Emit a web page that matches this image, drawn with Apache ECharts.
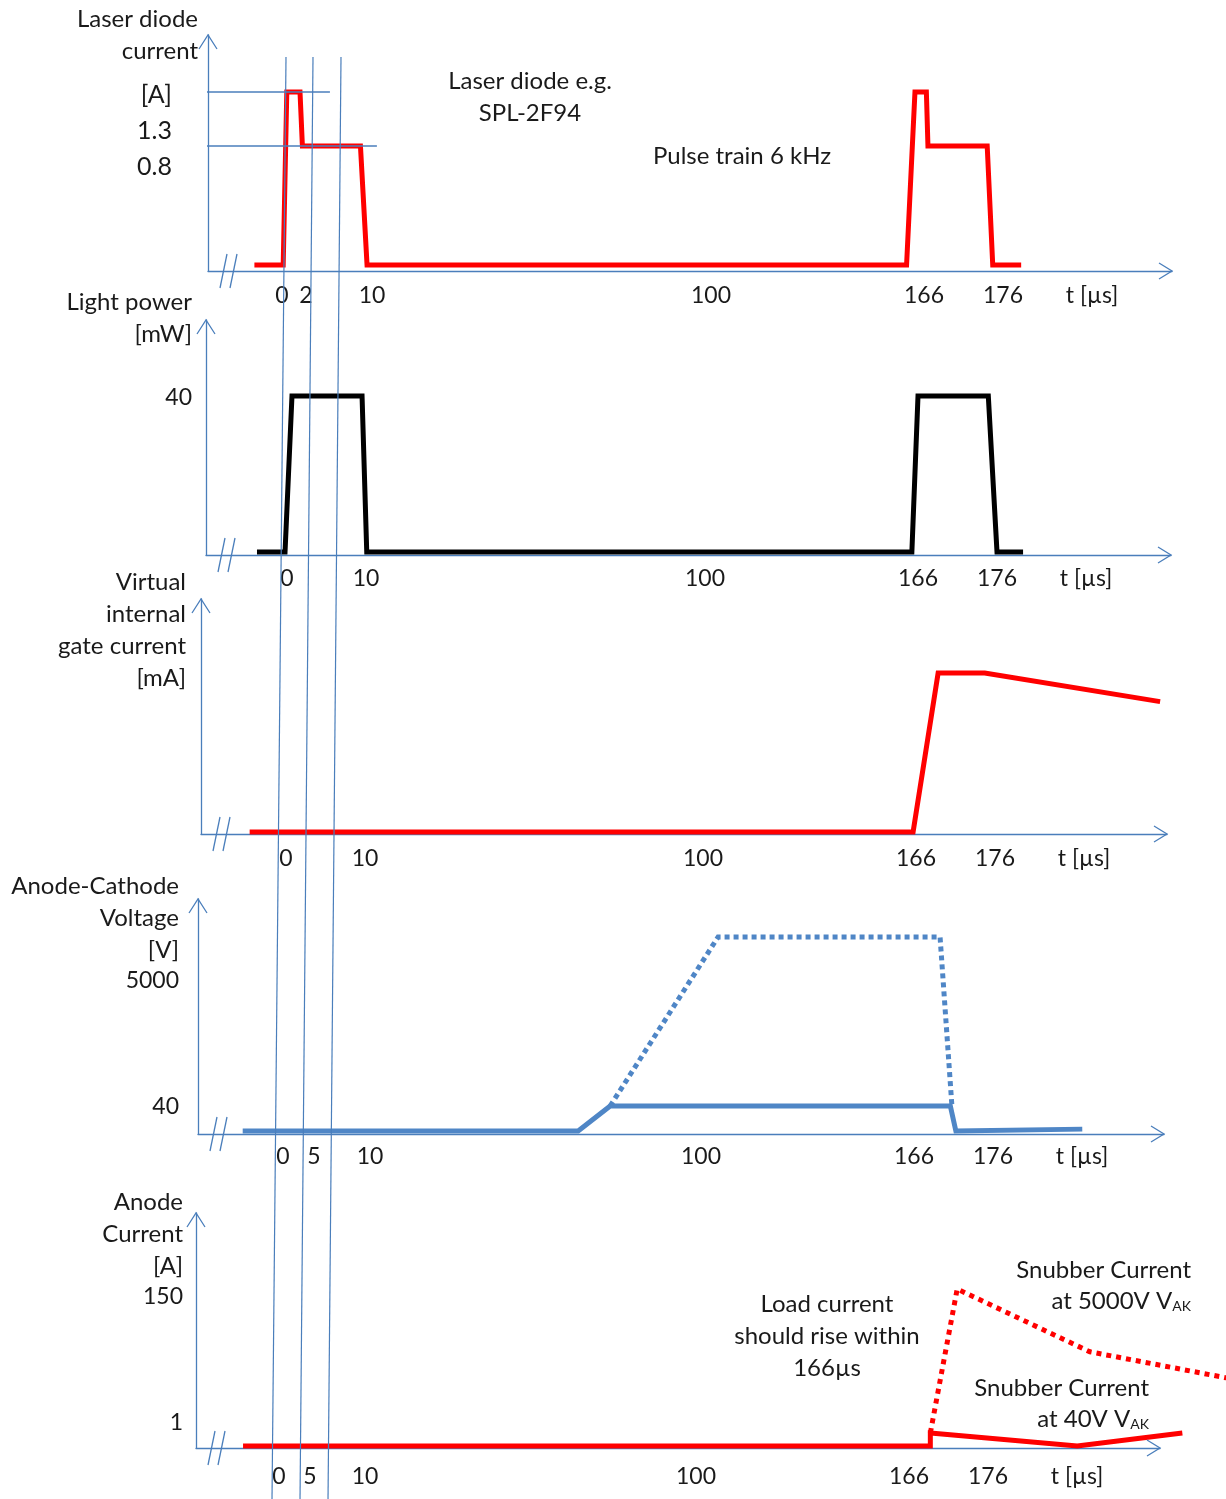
<!DOCTYPE html>
<html>
<head>
<meta charset="utf-8">
<script src="https://cdn.jsdelivr.net/npm/echarts@6/dist/echarts.min.js"></script>
<style>
html,body{margin:0;padding:0;background:#fff;}
#chart{width:1226px;height:1499px;}
</style>
</head>
<body>
<div id="chart"></div>
<script>
// ================= DATA =================
// Schematic time axes (µs) — tick labels of each panel
const p1TickTimes = [0, 2, 10, 100, 166, 176];
const p2TickTimes = [0, 10, 100, 166, 176];
const p3TickTimes = [0, 10, 100, 166, 176];
const p4TickTimes = [0, 5, 10, 100, 166, 176];
const p5TickTimes = [0, 5, 10, 100, 166, 176];
const timeUnitLabel = 't [µs]';

// Schematic value levels of each panel (y-axis scale knots)
const p1Levels = [0, 0.8, 1.3];      // A
const p2Levels = [0, 40];            // mW
const p3Levels = [0, 1];             // relative (no numbers given)
const p4Levels = [0, 40, 5000];      // V
const p5Levels = [0, 1, 150];        // A

// Y tick label texts
const p1YLabels = ['[A]', '1.3', '0.8'];
const p2YLabels = ['40'];
const p3YLabels = [];
const p4YLabels = ['5000', '40'];
const p5YLabels = ['150', '1'];

// Panel 1: laser diode current [A]
const laserTime    = [-2.3, 0.1, 0.4, 1.5, 1.7, 8.6, 9.4, 160.6, 163.2, 166.3, 166.5, 174.0, 174.7, 178.3];
const laserCurrent = [0,    0,   1.3, 1.3, 0.8, 0.8, 0,   0,     1.3,   1.3,   0.8,   0.8,   0,     0];
// thin reference lines at 1.3 A and 0.8 A
const refLevel = [1.3, 0.8];
const refStart = [-6.9, -6.9];
const refEnd   = [4.9, 11.3];

// Panel 2: light power [mW]
const lightTime  = [-3.8, -0.25, 0.63, 9.5, 10.2, 164.1, 166.0, 174.9, 176.0, 179.3];
const lightPower = [0,    0,     40,   40,  0,    0,     40,    40,    0,     0];

// Panel 3: virtual internal gate current (relative)
const gateTime    = [-4.6, 165.1, 168.8, 174.7, 196.9];
const gateCurrent = [0,    0,     1,     1,     0.82];

// Panel 4: anode-cathode voltage [V]
const vak40Time  = [-6.5, 66.6, 75.3, 170.6, 171.3, 187.3];
const vak40      = [0,    0,    40,   40,    0,     3];
const vak5000Time = [75.3, 105.3, 169.3, 170.8];
const vak5000     = [40,   5000,  5000,  40];

// Panel 5: anode current [A]
const anode40Time  = [-5.8, 168.7, 168.7, 187.3, 200.6];
const anode40      = [0,    0,     1,     0,     1];
const anode5000Time = [168.7, 172.1, 188.9, 206.2];
const anode5000     = [1,     150,   85,    58];

// ================= LAYOUT (pixels) =================
const FONT = 'Lato, "Open Sans", sans-serif';
const AXIS_BLUE = '#4a7ebb';
const TEXT = '#1a1a1a';
const layout = [
  {axX:208, top:35,   base:271,  end:1172, tickPx:[282,306,372,711,924,1003], unitPx:1092, levelPx:[265,146,92],     yLabelPx:[95,131,167], yMargin:36, ySize:25, xMargin:13},
  {axX:206, top:320,  base:555,  end:1171, tickPx:[287,366,705,918,997],      unitPx:1086, levelPx:[552,396],        yLabelPx:[398],        yMargin:14, ySize:23, xMargin:12},
  {axX:201, top:599,  base:834,  end:1167, tickPx:[286,365,703,916,995],      unitPx:1084, levelPx:[832,673],        yLabelPx:[],           yMargin:14, ySize:23, xMargin:13},
  {axX:198, top:899,  base:1134, end:1164, tickPx:[283,314,370,701,914,993],  unitPx:1082, levelPx:[1131,1106,937],  yLabelPx:[981,1107],   yMargin:19, ySize:23, xMargin:11},
  {axX:196, top:1213, base:1448, end:1160, tickPx:[279,310,365,696,909,988],  unitPx:1077, levelPx:[1446,1433,1289], yLabelPx:[1297,1423],  yMargin:13, ySize:23, xMargin:17}
];
const tickTimes = [p1TickTimes, p2TickTimes, p3TickTimes, p4TickTimes, p5TickTimes];
const levels = [p1Levels, p2Levels, p3Levels, p4Levels, p5Levels];
const yLabels = [p1YLabels, p2YLabels, p3YLabels, p4YLabels, p5YLabels];
const PAGE_RIGHT = 1230;

// piecewise-linear schematic scale
function makeWarp(vals, pos) {
  return function (v) {
    let i = 0;
    if (v >= vals[vals.length - 1]) i = vals.length - 2;
    else if (v > vals[0]) { while (v > vals[i + 1]) i++; }
    const f = (v - vals[i]) / (vals[i + 1] - vals[i]);
    return pos[i] + f * (pos[i + 1] - pos[i]);
  };
}
const warpX = layout.map((L, i) => makeWarp(tickTimes[i], L.tickPx));
const warpY = layout.map((L, i) => makeWarp(levels[i], L.levelPx));

function pts(i, times, vals) {
  const L = layout[i];
  return times.map((t, k) => [warpX[i](t) - L.axX, L.base - warpY[i](vals[k])]);
}

function lineSeries(i, times, vals, color, width, type, axisIdx) {
  const a = axisIdx == null ? i : axisIdx;
  return {
    type: 'line', xAxisIndex: a, yAxisIndex: a,
    data: pts(i, times, vals),
    symbol: 'none', showSymbol: false, clip: false, silent: true, animation: false,
    lineStyle: {color: color, width: width, type: type || 'solid', join: 'miter', cap: 'butt'},
    z: 5
  };
}

const grids = [], xAxes = [], yAxes = [];
layout.forEach((L, i) => {
  grids.push({left: L.axX, top: L.top, width: L.end - L.axX, height: L.base - L.top,
              containLabel: false, outerBoundsMode: 'none'});
  const xVals = tickTimes[i].map(t => warpX[i](t) - L.axX);
  const xTexts = tickTimes[i].map(t => String(t));
  xVals.push(L.unitPx - L.axX); xTexts.push(timeUnitLabel);
  xAxes.push({
    type: 'value', gridIndex: i, min: 0, max: L.end - L.axX,
    axisLine: {show: true, onZero: false, lineStyle: {color: AXIS_BLUE, width: 1.3}},
    axisTick: {show: false}, splitLine: {show: false},
    axisLabel: {
      customValues: xVals,
      formatter: function (v) {
        for (let k = 0; k < xVals.length; k++) if (Math.abs(xVals[k] - v) < 0.01) return xTexts[k];
        return '';
      },
      color: TEXT, fontSize: 23, fontFamily: FONT, margin: L.xMargin
    }
  });
  const yVals = L.yLabelPx.map(p => L.base - p);
  const yTexts = yLabels[i];
  yAxes.push({
    type: 'value', gridIndex: i, min: 0, max: L.base - L.top,
    axisLine: {show: true, onZero: false, lineStyle: {color: AXIS_BLUE, width: 1.3}},
    axisTick: {show: false}, splitLine: {show: false},
    axisLabel: {
      show: yVals.length > 0,
      customValues: yVals,
      formatter: function (v) {
        for (let k = 0; k < yVals.length; k++) if (Math.abs(yVals[k] - v) < 0.01) return yTexts[k];
        return '';
      },
      color: TEXT, fontSize: L.ySize, fontFamily: FONT, margin: L.yMargin
    }
  });
});
// overlay coordinate system for panel 5: same pixel scale, extended to the page edge
(function () {
  const L = layout[4];
  grids.push({left: L.axX, top: L.top, width: PAGE_RIGHT - L.axX, height: L.base - L.top,
              containLabel: false, outerBoundsMode: 'none'});
  xAxes.push({type: 'value', gridIndex: 5, min: 0, max: PAGE_RIGHT - L.axX, show: false,
              splitLine: {show: false}});
  yAxes.push({type: 'value', gridIndex: 5, min: 0, max: L.base - L.top, show: false,
              splitLine: {show: false}});
})();

const RED = '#ff0000', BLUE = '#4f86c6';
const series = [
  lineSeries(0, laserTime, laserCurrent, RED, 5),
  lineSeries(1, lightTime, lightPower, '#000000', 5),
  lineSeries(2, gateTime, gateCurrent, RED, 5),
  lineSeries(3, vak5000Time, vak5000, BLUE, 5, [5, 4]),
  lineSeries(3, vak40Time, vak40, BLUE, 5),
  lineSeries(4, anode5000Time, anode5000, RED, 5, [5, 5], 5),
  lineSeries(4, anode40Time, anode40, RED, 5, 'solid', 5)
];
refLevel.forEach((lv, k) => {
  const s = lineSeries(0, [refStart[k], refEnd[k]], [lv, lv], AXIS_BLUE, 1.3);
  s.z = 8;
  series.push(s);
});

// ================= DECORATIONS =================
const g = [];
function polyline(points, w, z) {
  return {type: 'polyline', z: z || 60, silent: true,
    shape: {points: points}, style: {stroke: AXIS_BLUE, lineWidth: w || 1.3, fill: null}};
}
layout.forEach(L => {
  // arrow heads
  g.push(polyline([[L.axX - 9, L.top + 14], [L.axX, L.top], [L.axX + 9, L.top + 14]]));
  g.push(polyline([[L.end - 13, L.base - 8], [L.end, L.base], [L.end - 13, L.base + 8]]));
  // axis break marks
  g.push(polyline([[L.axX + 12, L.base + 17], [L.axX + 19, L.base - 17]]));
  g.push(polyline([[L.axX + 22, L.base + 17], [L.axX + 29, L.base - 17]]));
});
// vertical guide lines crossing all panels
[[[286, 57], [272, 1499]], [[313, 57], [300, 1499]], [[341, 57], [328, 1499]]].forEach(p => {
  g.push(polyline(p, 1.2, 70));
});

const TSIZE = 24;
function textBlock(lines, x, yFirst, align, size) {
  return {type: 'text', z: 80, silent: true,
    style: {text: lines.join('\n'), x: x, y: yFirst - 16, font: (size || TSIZE) + 'px ' + FONT,
      fill: TEXT, align: align, textAlign: align, verticalAlign: 'top', textVerticalAlign: 'top', lineHeight: 32}};
}
function subText(main, sub, x, y) {
  return {type: 'text', z: 80, silent: true,
    style: {text: '{a|' + main + '}{b|' + sub + '}', x: x, y: y, align: 'right', textAlign: 'right',
      verticalAlign: 'middle', textVerticalAlign: 'middle',
      rich: {a: {font: TSIZE + 'px ' + FONT, fill: TEXT},
             b: {font: '14px ' + FONT, fill: TEXT, padding: [11, 0, 0, 0]}}}};
}
g.push(textBlock(['Laser diode', 'current'], 198, 19, 'right'));
g.push(textBlock(['Laser diode e.g.', 'SPL-2F94'], 530, 81, 'center'));
g.push(textBlock(['Pulse train 6 kHz'], 742, 156, 'center'));
g.push(textBlock(['Light power', '[mW]'], 192, 302, 'right'));
g.push(textBlock(['Virtual', 'internal', 'gate current', '[mA]'], 186, 582, 'right'));
g.push(textBlock(['Anode-Cathode', 'Voltage', '[V]'], 179, 886, 'right'));
g.push(textBlock(['Anode', 'Current', '[A]'], 183, 1202, 'right'));
g.push(textBlock(['Load current', 'should rise within', '166µs'], 827, 1304, 'center'));
g.push(textBlock(['Snubber Current'], 1191, 1270, 'right'));
g.push(subText('at 5000V V', 'AK', 1191, 1301));
g.push(textBlock(['Snubber Current'], 1149, 1388, 'right'));
g.push(subText('at 40V V', 'AK', 1149, 1419));

const chart = echarts.init(document.getElementById('chart'), null, {renderer: 'canvas'});
chart.setOption({
  animation: false,
  backgroundColor: '#ffffff',
  textStyle: {fontFamily: FONT},
  grid: grids,
  xAxis: xAxes,
  yAxis: yAxes,
  series: series,
  graphic: {elements: g}
});
</script>
</body>
</html>
